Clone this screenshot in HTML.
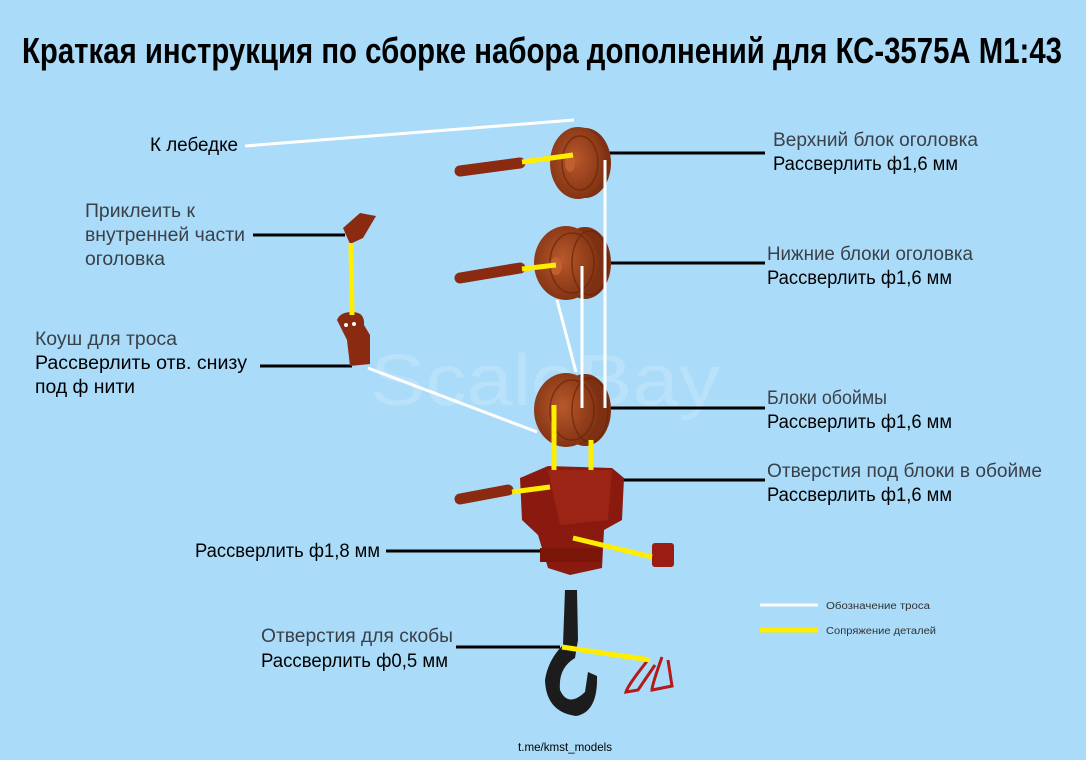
<!DOCTYPE html>
<html><head><meta charset="utf-8"><style>
html,body{margin:0;padding:0;background:#aadbf9;}
svg{display:block}
text{font-family:"Liberation Sans Narrow","Liberation Sans",sans-serif;}
</style></head><body>
<svg width="1086" height="760" viewBox="0 0 1086 760" xmlns="http://www.w3.org/2000/svg">
<defs>
<radialGradient id="wh" cx="0.45" cy="0.45" r="0.6"><stop offset="0" stop-color="#b8582a"/><stop offset="1" stop-color="#7e3012"/></radialGradient>
</defs>
<rect width="1086" height="760" fill="#aadbf9"/>
<text x="370" y="405" font-size="72" fill="#ffffff" opacity="0.18" textLength="350" lengthAdjust="spacingAndGlyphs">ScaleBay</text>
<text x="22" y="63" font-size="36" fill="#000" font-weight="bold" textLength="1040" lengthAdjust="spacingAndGlyphs">Краткая инструкция  по сборке набора дополнений для КС-3575А М1:43</text>

<g stroke="#000" stroke-width="3">
<line x1="606" y1="153" x2="765" y2="153"/>
<line x1="608" y1="263" x2="765" y2="263"/>
<line x1="608" y1="408" x2="765" y2="408"/>
<line x1="620" y1="480" x2="765" y2="480"/>
<line x1="386" y1="551" x2="575" y2="551"/>
<line x1="456" y1="647" x2="560" y2="647"/>
<line x1="253" y1="235" x2="345" y2="235"/>
<line x1="260" y1="366" x2="352" y2="366"/>
</g>

<g stroke="#8a2a10" stroke-width="11" stroke-linecap="round">
<line x1="460" y1="171" x2="520" y2="163"/>
<line x1="460" y1="278" x2="520" y2="268"/>
<line x1="460" y1="499" x2="508" y2="490"/>
</g>

<!-- wheels with thickness -->
<ellipse cx="585" cy="163" rx="26" ry="35" fill="#7e3012"/>
<ellipse cx="578" cy="163" rx="28" ry="36" fill="url(#wh)"/>
<ellipse cx="570" cy="163" rx="5" ry="9" fill="#c06030"/>
<ellipse cx="585" cy="263" rx="26" ry="36" fill="#7e3012"/>
<ellipse cx="566" cy="263" rx="32" ry="37" fill="url(#wh)"/>
<ellipse cx="556" cy="266" rx="6" ry="9" fill="#c06030"/>
<ellipse cx="585" cy="410" rx="26" ry="36" fill="#7e3012"/>
<ellipse cx="566" cy="410" rx="32" ry="37" fill="url(#wh)"/>
<g fill="none" stroke="#6a2508" stroke-width="1.5" opacity="0.7">
<ellipse cx="580" cy="163" rx="18" ry="27"/>
<ellipse cx="572" cy="263" rx="22" ry="30"/>
<ellipse cx="590" cy="263" rx="18" ry="32"/>
<ellipse cx="572" cy="410" rx="22" ry="30"/>
<ellipse cx="590" cy="410" rx="18" ry="32"/>
</g>

<polygon points="343,228 360,213 376,216 363,238 350,244" fill="#8a2a10"/>
<path d="M337,320 Q340,312 352,312 Q365,312 364,325 L370,335 L370,364 L350,366 L347,340 Z" fill="#8a2a10"/>
<circle cx="346" cy="325" r="2" fill="#fff"/><circle cx="354" cy="324" r="2" fill="#fff"/>

<path d="M520,478 L548,466 L612,468 L624,478 L622,520 L604,530 L602,568 L570,575 L548,568 L538,535 L522,520 Z" fill="#8a1a10"/>
<path d="M548,470 L612,470 L608,520 L560,525 Z" fill="#9c2414"/>
<rect x="540" y="548" width="62" height="14" fill="#7a1608"/>
<rect x="652" y="543" width="22" height="24" rx="3" fill="#9a1c12"/>

<!-- hook -->
<path d="M565,590 L577,590 L578,640 L575,658 Q558,668 560,690 Q568,708 585,692 L588,672 L597,676 Q598,712 576,716 Q546,712 545,680 Q548,660 563,645 Z" fill="#1c1c1c"/>
<path d="M648,660 Q628,685 626,692 L638,690 L655,665 M662,657 Q652,685 652,690 L672,686 L668,660" fill="none" stroke="#b31a1a" stroke-width="3"/>

<g stroke="#fff" stroke-width="3" fill="none">
<line x1="245" y1="146" x2="574" y2="120"/>
<line x1="605" y1="160" x2="605" y2="408"/>
<line x1="582" y1="266" x2="582" y2="408"/>
<line x1="557" y1="300" x2="576" y2="372"/>
<line x1="368" y1="368" x2="537" y2="432"/>
<line x1="760" y1="605" x2="818" y2="605"/>
</g>

<g stroke="#ffee00" stroke-width="5">
<line x1="522" y1="162" x2="573" y2="155"/>
<line x1="522" y1="269" x2="556" y2="265"/>
<line x1="351" y1="243" x2="352" y2="315"/>
<line x1="554" y1="405" x2="554" y2="470"/>
<line x1="591" y1="440" x2="591" y2="470"/>
<line x1="512" y1="492" x2="550" y2="487"/>
<line x1="573" y1="538" x2="652" y2="557"/>
<line x1="562" y1="647" x2="650" y2="660"/>
<line x1="760" y1="630" x2="818" y2="630"/>
</g>

<g font-size="19">
<text x="150" y="151" fill="#000" textLength="88" lengthAdjust="spacingAndGlyphs">К лебедке</text>
<text x="773" y="146" fill="#3a4048" textLength="205" lengthAdjust="spacingAndGlyphs">Верхний блок оголовка</text>
<text x="773" y="170" fill="#000" textLength="185" lengthAdjust="spacingAndGlyphs">Рассверлить ф1,6 мм</text>
<text x="767" y="260" fill="#3a4048" textLength="206" lengthAdjust="spacingAndGlyphs">Нижние блоки оголовка</text>
<text x="767" y="284" fill="#000" textLength="185" lengthAdjust="spacingAndGlyphs">Рассверлить ф1,6 мм</text>
<text x="767" y="404" fill="#3a4048" textLength="120" lengthAdjust="spacingAndGlyphs">Блоки обоймы</text>
<text x="767" y="428" fill="#000" textLength="185" lengthAdjust="spacingAndGlyphs">Рассверлить ф1,6 мм</text>
<text x="767" y="477" fill="#3a4048" textLength="275" lengthAdjust="spacingAndGlyphs">Отверстия под блоки в обойме</text>
<text x="767" y="501" fill="#000" textLength="185" lengthAdjust="spacingAndGlyphs">Рассверлить ф1,6 мм</text>
<text x="195" y="557" fill="#000" textLength="185" lengthAdjust="spacingAndGlyphs">Рассверлить ф1,8 мм</text>
<text x="261" y="642" fill="#3a4048" textLength="192" lengthAdjust="spacingAndGlyphs">Отверстия для скобы</text>
<text x="261" y="667" fill="#000" textLength="187" lengthAdjust="spacingAndGlyphs">Рассверлить ф0,5 мм</text>
<text x="85" y="217" fill="#3a4048" textLength="110" lengthAdjust="spacingAndGlyphs">Приклеить к</text>
<text x="85" y="241" fill="#3a4048" textLength="160" lengthAdjust="spacingAndGlyphs">внутренней части</text>
<text x="85" y="265" fill="#3a4048" textLength="80" lengthAdjust="spacingAndGlyphs">оголовка</text>
<text x="35" y="345" fill="#3a4048" textLength="142" lengthAdjust="spacingAndGlyphs">Коуш для троса</text>
<text x="35" y="369" fill="#000" textLength="212" lengthAdjust="spacingAndGlyphs">Рассверлить отв. снизу</text>
<text x="35" y="393" fill="#000" textLength="100" lengthAdjust="spacingAndGlyphs">под ф нити</text>
</g>
<text x="826" y="609" font-size="10" fill="#333" textLength="104" lengthAdjust="spacingAndGlyphs">Обозначение троса</text>
<text x="826" y="634" font-size="10" fill="#333" textLength="110" lengthAdjust="spacingAndGlyphs">Сопряжение деталей</text>
<text x="518" y="751" font-size="12" fill="#000" textLength="94" lengthAdjust="spacingAndGlyphs">t.me/kmst_models</text>
</svg>
</body></html>
